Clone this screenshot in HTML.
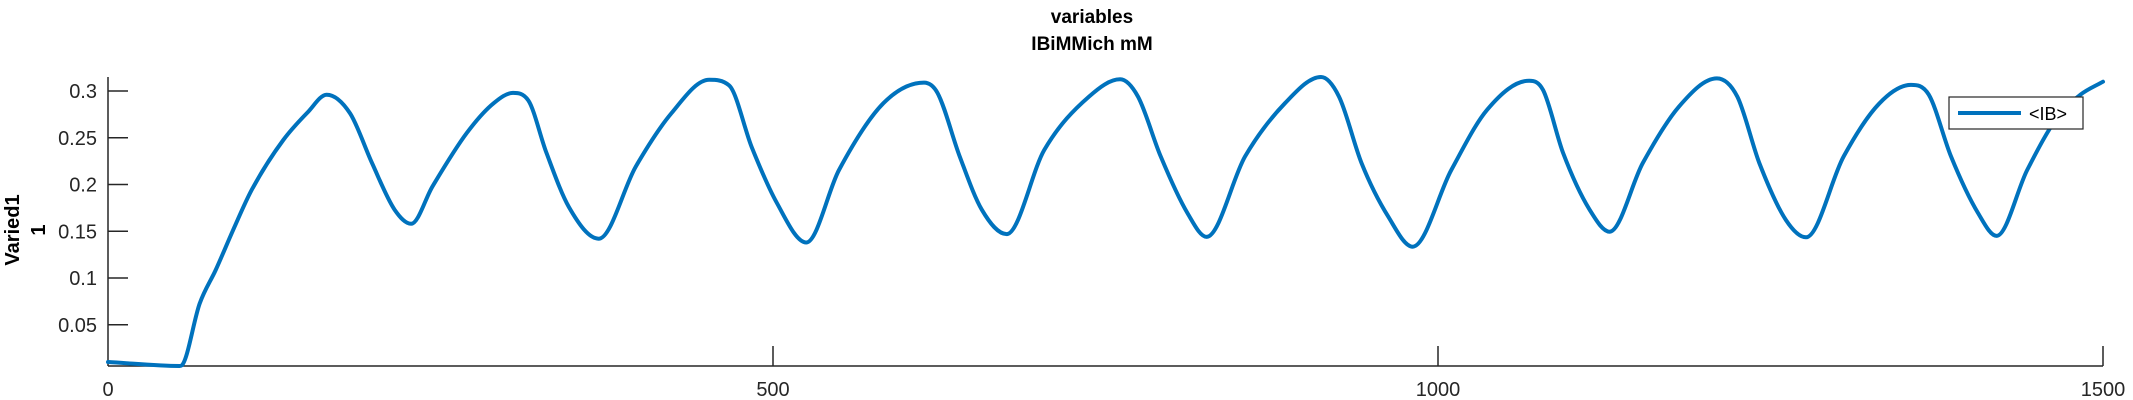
<!DOCTYPE html>
<html><head><meta charset="utf-8"><style>
html,body{margin:0;padding:0;background:#fff;}
svg{display:block;font-family:"Liberation Sans","DejaVu Sans",sans-serif;}
</style></head><body>
<svg id="chart" width="2133" height="400" viewBox="0 0 2133 400" xmlns="http://www.w3.org/2000/svg">
<rect width="2133" height="400" fill="#fff"/>
<text x="1092" y="23" text-anchor="middle" font-size="19" font-weight="bold" fill="#000">variables</text>
<text x="1092" y="50" text-anchor="middle" font-size="19" font-weight="bold" fill="#000">IBiMMich mM</text>
<g transform="translate(12,230) rotate(-90)">
<text x="0" y="7" text-anchor="middle" font-size="20" font-weight="bold" fill="#000">Varied1</text>
<text x="0" y="33" text-anchor="middle" font-size="20" font-weight="bold" fill="#000">1</text>
</g>
<g id="axes"></g>
<path id="series" fill="none" stroke="#0072BD" stroke-width="4" stroke-linejoin="round" stroke-linecap="round"/>
<g>
<rect x="1949" y="97" width="134" height="32" fill="#fff" stroke="#262626" stroke-width="1.2"/>
<line x1="1958" y1="113" x2="2021" y2="113" stroke="#0072BD" stroke-width="4"/>
<text x="2029" y="120" font-size="18" fill="#000">&lt;IB&gt;</text>
</g>
</svg>
<script>
const times = [0,53.8,55.4,69,81,94,108,131.8,150,164.4,182,198.5,215.5,228,244,269.7,290,304.5,316,329.6,346.5,369,396.8,423.5,452,467,484,503,525,549.6,583,613.5,623.7,640.4,657,675.7,704,737.6,761,774.4,791.5,811.6,826,855,885,912,925.6,942.5,962.6,981,1010,1037,1068.6,1079,1094,1114,1129,1154,1181,1209.7,1225,1241.6,1261.6,1276.7,1305,1332,1355.6,1369,1385.7,1406,1420,1443,1466,1483,1500];
const values = [0.0102,0.0059,0.0065,0.073,0.1086,0.151,0.194,0.2476,0.277,0.296,0.276,0.223,0.173,0.158,0.198,0.255,0.287,0.298,0.290,0.234,0.176,0.142,0.219,0.276,0.312,0.306,0.24,0.180,0.138,0.2155,0.287,0.309,0.298,0.230,0.173,0.147,0.237,0.294,0.3125,0.294,0.230,0.1695,0.144,0.230,0.287,0.315,0.294,0.223,0.1656,0.1335,0.2155,0.280,0.311,0.301,0.234,0.173,0.1495,0.223,0.283,0.3135,0.294,0.223,0.162,0.1435,0.230,0.287,0.3065,0.296,0.230,0.1695,0.145,0.2155,0.2725,0.296,0.310];
const xTicks = [0,500,1000,1500];
const yTicks = [0.05,0.1,0.15,0.2,0.25,0.3];
const yTickLabels = ["0.05","0.1","0.15","0.2","0.25","0.3"];

const X0=108, X1=2103, YB=366, YT=77;
const xMin=0, xMax=1500;
function xs(t){return X0+(t-xMin)/(xMax-xMin)*(X1-X0);}
function ys(v){return 278-(v-0.1)*935;}
const NS="http://www.w3.org/2000/svg";
const axes=document.getElementById('axes');
function mk(tag,attrs){const e=document.createElementNS(NS,tag);for(const k in attrs)e.setAttribute(k,attrs[k]);return e;}
let l=mk('line',{x1:X0,y1:YT,x2:X0,y2:YB,stroke:'#262626','stroke-width':1.5});


axes.appendChild(l);
l=mk('line',{x1:X0,y1:YB,x2:X1,y2:YB,stroke:'#262626','stroke-width':1.5});


axes.appendChild(l);
yTicks.forEach((v,i)=>{
  const y=ys(v);
  const t=mk('line',{x1:X0,y1:y,x2:X0+20,y2:y,stroke:'#262626','stroke-width':1.5});
  
  
  axes.appendChild(t);
  const tx=mk('text',{x:97,y:y+7,'text-anchor':'end','font-size':20,fill:'#262626'});
  tx.textContent=yTickLabels[i];
  
  
  axes.appendChild(tx);
});
xTicks.forEach(v=>{
  const x=xs(v);
  if(v!==xMin){
    const t=mk('line',{x1:x,y1:YB,x2:x,y2:YB-20,stroke:'#262626','stroke-width':1.5});
    
    
    axes.appendChild(t);
  }
  const tx=mk('text',{x:x,y:396,'text-anchor':'middle','font-size':20,fill:'#262626'});
  tx.textContent=String(v);
  
  
  axes.appendChild(tx);
});
// monotone cubic interpolation through the data points
const px=times.map(xs), py=values.map(ys);
const n=px.length, m=new Array(n), dk=[];
for(let i=0;i<n-1;i++) dk.push((py[i+1]-py[i])/(px[i+1]-px[i]));
m[0]=dk[0]; m[n-1]=dk[n-2];
for(let i=1;i<n-1;i++){ m[i]=(dk[i-1]*dk[i]<=0)?0:(dk[i-1]+dk[i])/2; }
for(let i=0;i<n-1;i++){
  if(dk[i]===0){m[i]=0;m[i+1]=0;continue;}
  const a=m[i]/dk[i], b=m[i+1]/dk[i], s=a*a+b*b;
  if(s>9){const t=3/Math.sqrt(s); m[i]=t*a*dk[i]; m[i+1]=t*b*dk[i];}
}
let d='M'+px[0].toFixed(1)+','+py[0].toFixed(1);
for(let i=0;i<n-1;i++){
  const h=(px[i+1]-px[i])/3;
  d+=' C'+(px[i]+h).toFixed(1)+','+(py[i]+m[i]*h).toFixed(1)+' '+(px[i+1]-h).toFixed(1)+','+(py[i+1]-m[i+1]*h).toFixed(1)+' '+px[i+1].toFixed(1)+','+py[i+1].toFixed(1);
}
document.getElementById('series').setAttribute('d',d);
</script>
</body></html>
